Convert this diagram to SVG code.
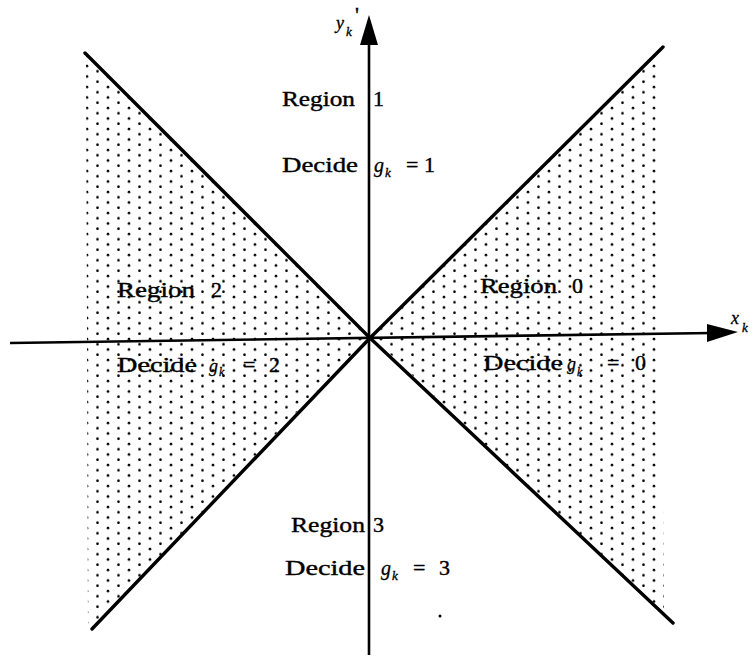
<svg xmlns="http://www.w3.org/2000/svg" width="755" height="662" viewBox="0 0 755 662">
<style>
.t{font-family:"Liberation Serif","Times New Roman",serif;font-size:22px;fill:#000;stroke:#000;stroke-width:0.4}
.i{font-family:"Liberation Serif","Times New Roman",serif;font-style:italic;fill:#000;stroke:#000;stroke-width:0.3}
.ax{stroke:#000;stroke-width:2.6;fill:none}
.dg{stroke:#000;stroke-width:3.4;fill:none;stroke-linecap:round}
</style>
<defs>
<pattern id="dots" patternUnits="userSpaceOnUse" width="21" height="10.5">
<circle cx="3" cy="3" r="1.35" fill="#000"/>
<circle cx="13.5" cy="8.25" r="1.35" fill="#000"/>
</pattern>
</defs>
<rect width="755" height="662" fill="#fff"/>
<g id="shading">
<polygon points="86,55 368,337 92,628 88,628" fill="url(#dots)"/>
<polygon points="663,48 372,337 673,623 664,614 659,60" fill="url(#dots)"/>
</g>
<g id="connectors">
<line class="ax" x1="369" y1="40" x2="369" y2="655"/>
<polygon points="369,15 360,45 378,45" fill="#000"/>
<line class="ax" x1="10" y1="343" x2="712" y2="333"/>
<polygon points="738,332 707,324 707,342" fill="#000"/>
<line class="dg" x1="85" y1="53" x2="370" y2="338"/>
<line class="dg" x1="370" y1="338" x2="673" y2="623"/>
<line class="dg" x1="663" y1="47" x2="370" y2="338"/>
<line class="dg" x1="370" y1="338" x2="92" y2="629"/>
</g>
<g id="axis-labels">
<text class="i" x="731" y="324" font-size="18">x</text>
<text class="i" x="742" y="332" font-size="13">k</text>
<text class="i" x="336" y="29" font-size="18">y</text>
<text class="i" x="346" y="36" font-size="13">k</text>
<text class="t" x="355" y="22" font-size="16">'</text>
</g>
<g id="region1">
<text class="t" x="282" y="106" textLength="73" lengthAdjust="spacingAndGlyphs">Region</text>
<text class="t" x="373" y="106">1</text>
<text class="t" x="282" y="172" textLength="76" lengthAdjust="spacingAndGlyphs">Decide</text>
<text class="i" x="374" y="172" font-size="20">g</text>
<text class="i" x="385" y="177" font-size="13">k</text>
<text class="t" x="406" y="172">=</text>
<text class="t" x="424" y="172">1</text>
</g>
<g id="region2">
<text class="t" x="117" y="297" textLength="78" lengthAdjust="spacingAndGlyphs">Region</text>
<text class="t" x="211" y="297">2</text>
<text class="t" x="117" y="372" textLength="80" lengthAdjust="spacingAndGlyphs">Decide</text>
<text class="i" x="209" y="372" font-size="18">g</text>
<text class="i" x="219" y="376" font-size="12">k</text>
<text class="t" x="243" y="372">=</text>
<text class="t" x="269" y="372">2</text>
</g>
<g id="region0">
<text class="t" x="480" y="293" textLength="77" lengthAdjust="spacingAndGlyphs">Region</text>
<text class="t" x="572" y="293">0</text>
<text class="t" x="483" y="370" textLength="80" lengthAdjust="spacingAndGlyphs">Decide</text>
<text class="i" x="567" y="370" font-size="18">g</text>
<text class="i" x="577" y="376" font-size="12">k</text>
<text class="t" x="607" y="370">=</text>
<text class="t" x="635" y="370">0</text>
</g>
<g id="region3">
<text class="t" x="291" y="532" textLength="74" lengthAdjust="spacingAndGlyphs">Region</text>
<text class="t" x="373" y="532">3</text>
<text class="t" x="285" y="575" textLength="80" lengthAdjust="spacingAndGlyphs">Decide</text>
<text class="i" x="381" y="575" font-size="20">g</text>
<text class="i" x="392" y="580" font-size="13">k</text>
<text class="t" x="413" y="575">=</text>
<text class="t" x="439" y="575">3</text>
<circle cx="440" cy="616" r="1.5" fill="#000"/>
</g>
</svg>
